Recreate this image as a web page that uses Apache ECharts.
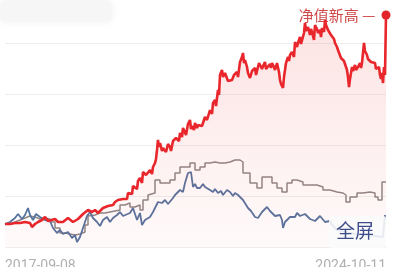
<!DOCTYPE html>
<html>
<head>
<meta charset="utf-8">
<script src="https://cdn.jsdelivr.net/npm/echarts@6/dist/echarts.min.js"></script>
<style>
html,body{margin:0;padding:0;background:#fff;}
#c{width:393px;height:267px;}
</style>
</head>
<body>
<div id="c"></div>
<script>
// x: week index from start (0..381), y: chart value units (axis 0..255, gridline every 51)
var xTickLabels = ['2017-09-08', '2024-10-11'];
var markText = '净值新高 —';
var buttonText = '全屏';

var fundNav = [
[0,23],[5,23],[10,24],[15,24],[20,25],[25,24],[27,20],[30,23],[33,25],[37,27],[40,30],[43,26],[45,27],[50,28],[53,25],[55,27],[58,25],[60,26],[63,29],[65,28],[68,25],[70,26],[73,28],[75,29],[78,33],[80,32],[83,37],[85,39],[87,35],[88,35],[90,37],[93,34],[95,36],[98,39],[100,38],[103,41],[105,39],[108,42],[110,45],[112,43],[113,47],[115,49],[118,48],[120,50],[122,48],[123,54],[125,56],[127,53],[128,61],[130,62],[132,58],[133,66],[135,69],[137,64],[138,75],[140,77],[141,72],[143,74],[145,77],[147,73],[148,80],[150,84],[151,88],[152,97],[153,107],[154,100],[155,104],[157,96],[158,99],[160,100],[161,95],[163,103],[165,100],[166,96],[168,106],[170,104],[171,109],[173,111],[174,106],[175,114],[177,110],[178,119],[180,117],[181,112],[183,123],[185,127],[186,118],[187,121],[189,117],[190,124],[192,119],[193,122],[195,124],[197,121],[200,130],[202,127],[205,137],[207,133],[208,144],[210,147],[211,141],[213,157],[214,152],[215,172],[217,177],[218,170],[220,174],[222,172],[223,166],[225,167],[227,167],[229,172],[230,173],[232,175],[233,170],[235,185],[237,190],[238,194],[239,184],[240,187],[242,180],[243,174],[245,169],[247,176],[248,178],[250,179],[251,172],[252,173],[254,184],[255,182],[257,178],[258,181],[260,185],[261,178],[263,180],[265,183],[266,179],[267,184],[269,180],[270,177],[272,184],[274,175],[275,167],[276,163],[278,159],[279,170],[281,184],[283,190],[284,186],[285,192],[287,195],[289,190],[290,205],[292,200],[293,204],[295,210],[296,203],[297,204],[299,214],[300,224],[301,216],[303,220],[305,212],[306,218],[307,215],[309,207],[310,222],[312,218],[313,214],[315,217],[316,210],[317,219],[319,215],[320,227],[321,222],[323,217],[325,219],[326,212],[327,214],[329,208],[330,204],[332,200],[333,197],[335,195],[336,189],[337,190],[339,186],[340,184],[342,177],[343,170],[344,160],[345,168],[347,180],[348,176],[350,182],[351,177],[353,180],[355,184],[356,179],[357,184],[359,204],[360,196],[362,192],[363,188],[365,190],[366,185],[368,187],[370,184],[371,178],[372,177],[374,180],[375,172],[376,168],[377,174],[378,164],[379,180],[380,172],[381,232]
];

var benchmark = [
[0,23],[5,25],[10,27],[15,29],[20,31],[25,30],[30,28],[35,29],[40,28],[45,25],[50,19],[55,14],[60,13],[65,12],[70,13],[75,15],[80,22],[83,31],[85,32],[90,34],[95,34],[100,35],[105,36],[110,37],[115,42],[120,44],[125,40],[130,42],[135,37],[138,47],[143,52],[145,54],[150,67],[155,64],[160,64],[165,67],[170,74],[175,80],[180,80],[185,84],[190,77],[195,80],[200,84],[205,85],[210,84],[215,84],[220,85],[225,87],[230,87],[235,85],[238,74],[245,64],[252,59],[257,70],[262,70],[267,64],[272,59],[277,55],[282,64],[287,67],[292,65],[298,62],[305,62],[312,60],[318,57],[325,55],[332,54],[338,52],[341,45],[345,50],[352,54],[358,55],[365,54],[370,50],[373,47],[377,65],[381,65]
];

var indexLine = [
[0,23],[5,25],[10,29],[13,33],[17,28],[20,32],[23,39],[25,32],[28,27],[31,33],[35,30],[40,27],[45,26],[48,19],[52,14],[55,17],[58,13],[60,11],[63,15],[67,9],[70,12],[72,5],[75,10],[78,19],[82,31],[85,35],[88,29],[92,25],[95,21],[98,27],[102,30],[105,25],[108,29],[112,32],[115,35],[118,31],[120,32],[125,34],[128,39],[132,27],[135,34],[137,22],[140,27],[145,30],[148,35],[150,37],[153,45],[157,44],[160,47],[163,43],[165,45],[168,49],[170,52],[175,57],[178,55],[180,64],[183,74],[186,75],[188,60],[190,63],[192,59],[195,59],[198,63],[200,60],[202,62],[205,57],[208,55],[210,58],[213,54],[216,56],[218,52],[222,57],[225,55],[228,51],[230,54],[233,52],[238,47],[243,39],[246,36],[248,34],[250,30],[253,29],[257,35],[262,40],[265,36],[267,34],[270,31],[272,29],[275,32],[277,27],[278,19],[280,25],[282,27],[285,30],[287,32],[290,30],[292,34],[295,31],[297,30],[300,33],[302,32],[305,28],[307,30],[310,26],[312,27],[315,31],[317,29],[320,25],[322,24],[325,26],[327,22],[332,17],[340,15],[350,13],[360,12],[370,11],[378,10],[380,32]
];

var chart = echarts.init(document.getElementById('c'), null, {renderer:'canvas'});
chart.setOption({
  animation:false,
  backgroundColor:'#ffffff',
  grid:{left:5, right:7, top:-8, bottom:20, containLabel:false, outerBoundsMode:'none'},
  xAxis:{
    type:'value', min:0, max:381, interval:381,
    axisLine:{show:false}, axisTick:{show:false}, splitLine:{show:false},
    axisLabel:{
      color:'#b0b0b0', fontSize:14, margin:12, fontFamily:'Roboto',
      alignMinLabel:'left', alignMaxLabel:'right',
      formatter:function(v){ return v === 0 ? xTickLabels[0] : xTickLabels[1]; }
    }
  },
  yAxis:{
    type:'value', min:0, max:255, interval:51,
    axisLine:{show:false}, axisTick:{show:false}, axisLabel:{show:false},
    splitLine:{lineStyle:{color:'#eeeeee', width:1}}
  },
  series:[
    {type:'line', data:benchmark, step:'end', symbol:'none', z:3,
     lineStyle:{color:'#8f8786', width:1.5}},
    {type:'line', data:indexLine, symbol:'none', z:4,
     lineStyle:{color:'#56739f', width:1.8}},
    {type:'line', data:fundNav, symbol:'none', z:5,
     lineStyle:{color:'#e8262b', width:2.6},
     areaStyle:{origin:'start', color:new echarts.graphic.LinearGradient(0,0,0,1,[
       {offset:0, color:'rgba(240,70,70,0.22)'},
       {offset:1, color:'rgba(240,70,70,0.04)'}
     ])},
     markPoint:{
       symbol:'circle', symbolSize:9,
       itemStyle:{color:'#e0262b'},
       label:{show:true, position:'left', distance:6, formatter:markText,
              color:'#cf4a4a', fontSize:15, fontFamily:'Noto Sans CJK SC'},
       data:[{coord:fundNav[fundNav.length-1]}]
     }}
  ],
  graphic:[
    {type:'rect', z:1, shape:{x:0, y:0, width:112, height:22, r:6},
     style:{fill:'#f6f6f6', shadowBlur:8, shadowColor:'rgba(0,0,0,0.06)'}},
    {type:'rect', z:100, shape:{x:329, y:216, width:57, height:32, r:3},
     style:{fill:'rgba(250,250,252,0.88)'}},
    {type:'text', z:101, left:336, top:221,
     style:{text:buttonText, fill:'#3f4c8a', fontSize:19, fontFamily:'Noto Sans CJK SC'}}
  ]
});
</script>
</body>
</html>
